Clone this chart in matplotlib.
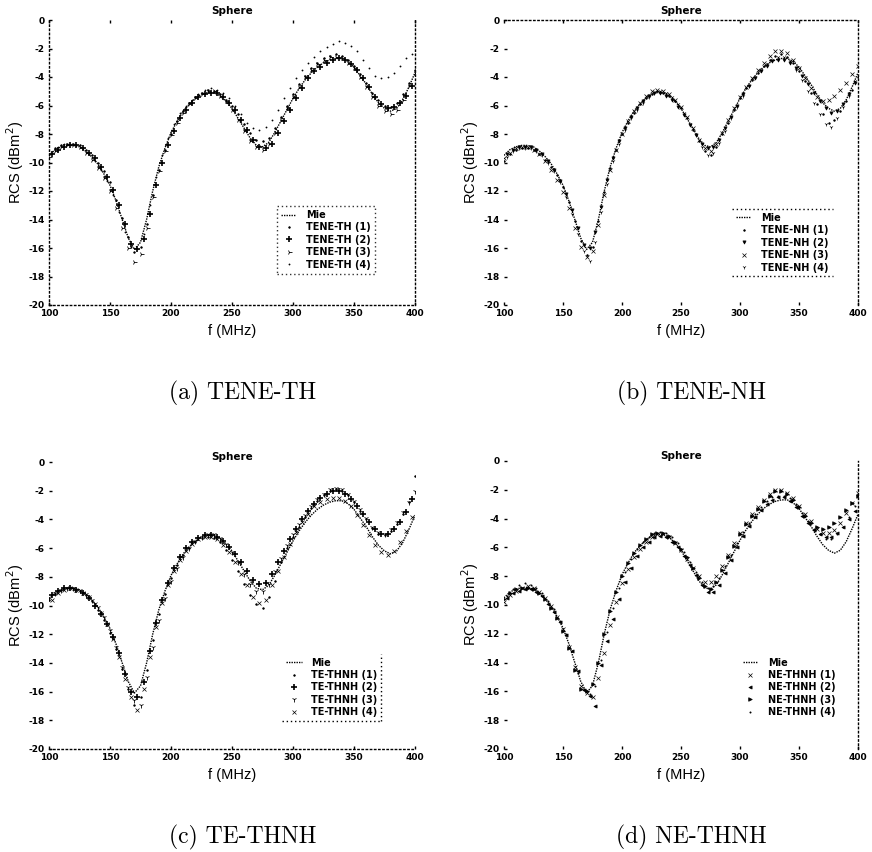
import numpy as np
import matplotlib
matplotlib.use("Agg")
from matplotlib import pyplot as plt
from matplotlib.lines import Line2D

plt.rcParams['axes.unicode_minus'] = False

# sample frequencies (MHz)
freq = np.arange(100, 401, 5)
freqHalf = np.arange(102.5, 400, 5)

# Mie series solution, same sphere in every panel
mie = [-9.5, -9.1, -8.9, -8.8, -8.8, -8.9, -9.2, -9.6, -10.1, -10.8,
       -11.6, -12.7, -14.0, -15.3, -16.1, -15.6, -14.0, -12.0, -10.3, -9.0,
       -7.9, -7.1, -6.4, -5.9, -5.5, -5.2, -5.1, -5.1, -5.3, -5.7,
       -6.2, -6.9, -7.6, -8.3, -8.8, -8.9, -8.6, -7.9, -7.1, -6.3,
       -5.5, -4.8, -4.2, -3.7, -3.3, -3.0, -2.8, -2.7, -2.7, -2.9,
       -3.3, -3.9, -4.5, -5.2, -5.8, -6.2, -6.4, -6.2, -5.6, -4.7, -3.7]

# (a) TENE-TH
teneTh1 = [-9.4, -9.0, -8.8, -8.7, -8.7, -8.8, -9.1, -9.5, -10.0, -10.6,
           -11.4, -12.6, -13.9, -15.2, -16.3, -15.9, -14.3, -12.3, -10.5, -9.1,
           -8.0, -7.1, -6.4, -5.8, -5.4, -5.1, -4.9, -5.0, -5.2, -5.6,
           -6.0, -6.6, -7.3, -7.9, -8.4, -8.5, -8.3, -7.6, -6.8, -6.0,
           -5.2, -4.5, -3.9, -3.4, -3.0, -2.7, -2.5, -2.4, -2.5, -2.8,
           -3.2, -3.8, -4.4, -5.1, -5.6, -6.0, -6.1, -5.8, -5.2, -4.4, -3.5]
teneTh2 = [-9.4, -9.1, -8.9, -8.8, -8.8, -9.0, -9.3, -9.7, -10.3, -11.0,
           -11.9, -13.0, -14.3, -15.7, -16.1, -15.4, -13.6, -11.6, -10.0, -8.8,
           -7.8, -6.9, -6.3, -5.8, -5.4, -5.2, -5.1, -5.1, -5.4, -5.8,
           -6.3, -7.0, -7.7, -8.4, -8.9, -9.0, -8.7, -7.9, -7.1, -6.3,
           -5.5, -4.8, -4.1, -3.6, -3.3, -3.0, -2.8, -2.7, -2.8, -3.1,
           -3.5, -4.1, -4.7, -5.4, -5.9, -6.2, -6.1, -5.8, -5.3, -4.6]
teneTh3 = [-9.6, -9.2, -8.9, -8.8, -8.8, -8.9, -9.3, -9.8, -10.4, -11.1,
           -12.0, -13.2, -14.6, -16.0, -17.0, -16.4, -14.6, -12.4, -10.6, -9.2,
           -8.1, -7.2, -6.5, -5.9, -5.5, -5.2, -5.0, -5.0, -5.3, -5.7,
           -6.3, -7.0, -7.8, -8.5, -8.9, -9.1, -8.7, -7.9, -7.0, -6.2,
           -5.4, -4.7, -4.0, -3.5, -3.1, -2.8, -2.6, -2.6, -2.7, -3.0,
           -3.4, -4.0, -4.7, -5.4, -6.0, -6.4, -6.6, -6.3, -5.6, -4.6, -3.7]
teneTh4 = [-9.3, -8.9, -8.7, -8.7, -8.8, -9.0, -9.4, -9.9, -10.5, -11.3,
           -12.3, -13.5, -14.9, -15.9, -16.1, -15.0, -13.0, -11.0, -9.5, -8.3,
           -7.3, -6.5, -6.0, -5.6, -5.2, -4.9, -4.8, -4.9, -5.1, -5.5,
           -6.0, -6.6, -7.2, -7.6, -7.7, -7.5, -7.0, -6.3, -5.5, -4.8,
           -4.1, -3.5, -3.0, -2.6, -2.2, -1.9, -1.7, -1.5, -1.6, -1.8,
           -2.2, -2.8, -3.4, -3.9, -4.1, -4.0, -3.7, -3.2, -2.7, -2.4]

# (b) TENE-NH
teneNh1 = [-9.9, -9.4, -9.1, -9.0, -9.0, -9.1, -9.4, -9.8, -10.3, -10.9,
           -11.7, -12.8, -14.1, -15.5, -16.5, -15.9, -14.1, -12.1, -10.4, -9.1,
           -8.0, -7.2, -6.5, -5.9, -5.5, -5.2, -5.0, -5.1, -5.3, -5.7,
           -6.2, -6.9, -7.7, -8.5, -9.2, -9.5, -8.9, -8.0, -7.2, -6.3,
           -5.5, -4.8, -4.2, -3.7, -3.2, -2.8, -2.5, -2.4, -2.6, -3.0,
           -3.6, -4.3, -5.1, -5.9, -6.6, -7.2, -7.0, -6.4, -5.7, -4.9, -4.0]
teneNh2 = [-9.4, -9.1, -8.9, -8.9, -8.9, -9.1, -9.4, -9.9, -10.5, -11.3,
           -12.2, -13.3, -14.6, -15.8, -16.0, -14.9, -13.1, -11.2, -9.7, -8.5,
           -7.6, -6.8, -6.2, -5.7, -5.3, -5.1, -5.1, -5.3, -5.6, -6.1,
           -6.7, -7.4, -8.1, -8.7, -9.0, -8.9, -8.4, -7.6, -6.8, -6.0,
           -5.2, -4.6, -4.1, -3.6, -3.2, -2.9, -2.8, -2.8, -3.0, -3.4,
           -3.9, -4.5, -5.1, -5.7, -6.2, -6.5, -6.4, -5.9, -5.2, -4.4]
teneNh3 = [-9.7, -9.3, -9.0, -8.9, -8.9, -9.1, -9.4, -9.9, -10.5, -11.2,
           -12.1, -13.2, -14.6, -15.9, -16.6, -16.2, -14.4, -12.3, -10.5, -9.1,
           -8.0, -7.1, -6.4, -5.8, -5.3, -5.0, -4.9, -5.0, -5.2, -5.6,
           -6.1, -6.8, -7.6, -8.4, -9.0, -9.2, -8.7, -7.9, -7.0, -6.2,
           -5.4, -4.7, -4.1, -3.5, -3.0, -2.5, -2.2, -2.2, -2.3, -2.8,
           -3.4, -4.1, -4.8, -5.4, -5.7, -5.6, -5.3, -4.9, -4.4, -3.8, -3.2]
teneNh4 = [-9.6, -9.2, -9.0, -9.0, -9.0, -9.2, -9.5, -10.0, -10.6, -11.4,
           -12.4, -13.6, -15.0, -16.2, -16.9, -15.6, -13.5, -11.5, -9.9, -8.7,
           -7.7, -6.9, -6.3, -5.8, -5.4, -5.1, -5.0, -5.1, -5.4, -5.9,
           -6.5, -7.3, -8.1, -8.9, -9.5, -9.3, -8.6, -7.8, -6.9, -6.1,
           -5.3, -4.6, -4.0, -3.5, -3.1, -2.8, -2.6, -2.6, -2.9, -3.5,
           -4.2, -5.0, -5.8, -6.6, -7.3, -7.5, -6.9, -6.1, -5.3, -4.3]

# (c) TE-THNH
teThnh1 = [-9.6, -9.2, -8.9, -8.8, -8.8, -9.0, -9.3, -9.7, -10.3, -11.0,
           -11.9, -13.0, -14.4, -15.8, -16.9, -16.4, -14.5, -12.4, -10.6, -9.2,
           -8.1, -7.2, -6.5, -6.0, -5.6, -5.3, -5.2, -5.3, -5.6, -6.1,
           -6.8, -7.6, -8.5, -9.3, -9.9, -10.2, -9.4, -8.3, -7.0, -6.0,
           -5.2, -4.5, -3.8, -3.2, -2.7, -2.3, -2.0, -1.9, -2.0, -2.3,
           -2.8, -3.4, -4.0, -4.6, -5.0, -5.1, -4.8, -4.3, -3.6, -2.8, -1.0]
teThnh2 = [-9.3, -9.0, -8.8, -8.8, -8.9, -9.1, -9.5, -10.0, -10.6, -11.3,
           -12.2, -13.3, -14.8, -16.0, -16.4, -15.3, -13.2, -11.2, -9.6, -8.4,
           -7.4, -6.6, -6.0, -5.6, -5.3, -5.1, -5.1, -5.2, -5.5, -5.9,
           -6.4, -7.0, -7.6, -8.2, -8.5, -8.4, -7.8, -7.0, -6.2, -5.4,
           -4.7, -4.0, -3.4, -2.9, -2.5, -2.2, -2.0, -2.0, -2.2, -2.6,
           -3.1, -3.6, -4.2, -4.7, -5.0, -5.0, -4.7, -4.2, -3.5, -2.6]
teThnh3 = [-9.5, -9.1, -8.9, -8.8, -8.8, -8.9, -9.2, -9.6, -10.1, -10.8,
           -11.7, -12.9, -14.3, -15.7, -16.6, -16.9, -15.0, -12.9, -11.0, -9.5,
           -8.3, -7.4, -6.6, -6.0, -5.5, -5.2, -5.0, -5.0, -5.3, -5.7,
           -6.3, -7.0, -7.8, -8.5, -9.0, -9.0, -8.5, -7.6, -6.7, -5.8,
           -5.0, -4.3, -3.7, -3.1, -2.6, -2.2, -1.9, -1.8, -1.9, -2.2,
           -2.7, -3.3, -3.9, -4.5, -4.9, -5.0, -4.7, -4.2, -3.5, -2.8, -2.0]
teThnh4 = [-9.6, -9.1, -8.9, -8.8, -8.9, -9.1, -9.4, -9.9, -10.5, -11.3,
           -12.3, -13.6, -15.1, -16.4, -17.3, -15.8, -13.6, -11.5, -9.8, -8.6,
           -7.6, -6.8, -6.2, -5.7, -5.4, -5.2, -5.2, -5.4, -5.8, -6.3,
           -7.0, -7.8, -8.6, -9.4, -9.8, -9.6, -8.6, -7.6, -6.6, -5.7,
           -4.9, -4.2, -3.6, -3.1, -2.8, -2.6, -2.5, -2.5, -2.7, -3.1,
           -3.7, -4.4, -5.1, -5.8, -6.3, -6.5, -6.2, -5.6, -4.8, -3.8]

# (d) NE-THNH
neThnh1 = [-9.8, -9.3, -9.0, -8.8, -8.7, -8.8, -9.1, -9.5, -10.1, -10.8,
           -11.7, -12.9, -14.3, -15.6, -16.1, -16.4, -15.1, -13.3, -11.4, -9.8,
           -8.5, -7.5, -6.7, -6.1, -5.6, -5.3, -5.1, -5.1, -5.3, -5.7,
           -6.2, -6.8, -7.4, -8.0, -8.4, -8.4, -8.0, -7.3, -6.5, -5.7,
           -5.0, -4.3, -3.7, -3.2, -2.7, -2.3, -2.0, -2.0, -2.2, -2.6,
           -3.1, -3.7, -4.2, -4.7, -5.0, -5.0, -4.8, -4.3, -3.6, -2.9, -2.2]
neThnh2 = [-9.5, -9.2, -9.0, -8.9, -8.9, -9.1, -9.4, -9.9, -10.5, -11.2,
           -12.1, -13.2, -14.6, -15.9, -16.3, -17.0, -14.2, -12.5, -11.0, -9.6,
           -8.4, -7.4, -6.6, -6.0, -5.6, -5.3, -5.2, -5.3, -5.6, -6.0,
           -6.6, -7.2, -7.9, -8.6, -9.1, -9.1, -8.6, -7.8, -6.9, -6.0,
           -5.2, -4.5, -3.9, -3.4, -3.0, -2.7, -2.5, -2.5, -2.8, -3.2,
           -3.8, -4.3, -4.8, -5.1, -5.3, -5.3, -5.0, -4.6, -4.0, -3.5]
neThnh3 = [-9.6, -9.2, -8.9, -8.8, -8.8, -8.9, -9.2, -9.6, -10.2, -10.9,
           -11.8, -13.0, -14.5, -15.8, -16.0, -15.5, -14.0, -12.0, -10.4, -9.1,
           -8.0, -7.1, -6.4, -5.8, -5.4, -5.1, -5.0, -5.0, -5.2, -5.6,
           -6.1, -6.7, -7.4, -8.1, -8.7, -8.9, -8.4, -7.6, -6.7, -5.9,
           -5.1, -4.4, -3.8, -3.3, -2.8, -2.4, -2.1, -2.1, -2.3, -2.7,
           -3.2, -3.8, -4.3, -4.6, -4.7, -4.6, -4.3, -3.9, -3.4, -2.9, -2.4]
neThnh4 = [-9.4, -8.9, -8.6, -8.5, -8.6, -8.8, -9.2, -9.7, -10.3, -11.1,
           -12.0, -13.2, -14.7, -15.8, -16.2, -15.6, -13.8, -11.9, -10.2, -8.8,
           -7.7, -6.8, -6.1, -5.6, -5.3, -5.0, -4.9, -5.0, -5.3, -5.7,
           -6.3, -7.0, -7.7, -8.4, -8.8, -8.7, -8.1, -7.3, -6.5, -5.7,
           -4.9, -4.3, -3.7, -3.2, -2.8, -2.5, -2.4, -2.4, -2.6, -3.0,
           -3.6, -4.2, -4.7, -5.1, -5.4, -5.4, -5.1, -4.6, -3.9, -3.1]

xTicks = [100, 150, 200, 250, 300, 350, 400]
yTicks = [0, -2, -4, -6, -8, -10, -12, -14, -16, -18, -20]

# name, caption, series, marker styles, visible spines, legend border sides
panels = [
    dict(name='TENE-TH', cap='(a) TENE-TH',
         series=[teneTh1, teneTh2, teneTh3, teneTh4],
         markers=[('.', 2.2, 0.6), ('+', 4.0, 1.2), ('4', 4.0, 0.6), ('.', 1.6, 0.5)],
         spines=['left', 'bottom', 'right'], box='full',
         rect=[49, 20, 415, 305], leg=(0.623, 0.347)),
    dict(name='TENE-NH', cap='(b) TENE-NH',
         series=[teneNh1, teneNh2, teneNh3, teneNh4],
         markers=[('.', 2.2, 0.6), ('v', 2.3, 0.5), ('x', 2.3, 0.5), ('1', 2.8, 0.5)],
         spines=['top', 'right'], box='tb',
         rect=[504, 20, 858, 305], leg=(0.644, 0.337)),
    dict(name='TE-THNH', cap='(c) TE-THNH',
         series=[teThnh1, teThnh2, teThnh3, teThnh4],
         markers=[('.', 2.2, 0.6), ('+', 4.0, 1.2), ('1', 3.6, 0.6), ('x', 2.3, 0.5)],
         spines=['bottom'], box='rb',
         rect=[49, 462, 415, 749], leg=(0.637, 0.332)),
    dict(name='NE-THNH', cap='(d) NE-THNH',
         series=[neThnh1, neThnh2, neThnh3, neThnh4],
         markers=[('x', 2.3, 0.5), ('<', 2.3, 0.5), ('>', 2.6, 0.5), ('.', 1.8, 0.5)],
         spines=['right'], box=None,
         rect=[504, 461, 858, 749], leg=(0.663, 0.331)),
]

W, H = 872, 852
fig = plt.figure(figsize=(W / 100, H / 100), dpi=100)
dotted = (0, (1, 2))

legends = []
for p in panels:
    x0, y0, x1, y1 = p['rect']
    ax = fig.add_axes([x0 / W, 1 - y1 / H, (x1 - x0) / W, (y1 - y0) / H])
    ax.plot(freq, mie, color='k', linestyle=(0, (1, 0.8)), linewidth=1.0, label='Mie')
    for i, (vals, (mk, ms, mew)) in enumerate(zip(p['series'], p['markers'])):
        fx = freq if i % 2 == 0 else freqHalf
        ax.plot(fx, vals, linestyle='none', marker=mk, markersize=ms,
                markeredgewidth=mew, color='k', label=f"{p['name']} ({i + 1})")
    ax.set_xlim(100, 400)
    ax.set_ylim(-20, 0)
    ax.set_xticks(xTicks)
    ax.set_yticks(yTicks)
    ax.tick_params(direction='in', length=2, width=1, pad=3,
                   labelsize=6.5, top=p['box'] in ('full', 'tb'))
    for lab in ax.get_xticklabels() + ax.get_yticklabels():
        lab.set_fontweight('bold')
    for side, sp in ax.spines.items():
        if side in p['spines']:
            sp.set_linestyle(dotted)
            sp.set_linewidth(1.0)
        else:
            sp.set_visible(False)
    ax.set_title('Sphere', fontsize=7.5, fontweight='bold',
                 pad=4 if y0 < 100 else 1)
    ax.set_xlabel('f (MHz)', fontsize=10.5, family='Liberation Sans', labelpad=4)
    ax.set_ylabel('RCS (dBm$^2$)', fontsize=10.5, family='Liberation Sans', labelpad=2)

    leg = ax.legend(loc='upper left', bbox_to_anchor=p['leg'], borderaxespad=0,
                    prop={'size': 7, 'weight': 'bold'}, handlelength=1.6,
                    handletextpad=1.0, labelspacing=0.25, borderpad=0.4,
                    fancybox=False, frameon=p['box'] == 'full')
    if p['box'] == 'full':
        fr = leg.get_frame()
        fr.set_edgecolor('k')
        fr.set_linestyle(dotted)
        fr.set_linewidth(1.0)
    legends.append((leg, p['box']))

    fig.text((x0 + x1) / 2 / W + 0.012, 1 - (y1 + 88) / H, p['cap'],
             family='cmr10', fontsize=17, ha='center', va='center')

# partial legend borders
fig.canvas.draw()
inv = fig.transFigure.inverted()
for leg, box in legends:
    if box not in ('tb', 'rb'):
        continue
    bb = leg.get_window_extent().transformed(inv)
    if box == 'tb':
        sides = [([bb.x0, bb.x1], [bb.y1, bb.y1]), ([bb.x0, bb.x1], [bb.y0, bb.y0])]
    else:
        sides = [([bb.x1, bb.x1], [bb.y0, bb.y1]), ([bb.x0, bb.x1], [bb.y0, bb.y0])]
    for xs, ys in sides:
        fig.add_artist(Line2D(xs, ys, transform=fig.transFigure, color='k',
                              linestyle=dotted, linewidth=1.0))

fig.savefig('out.png', dpi=100)
